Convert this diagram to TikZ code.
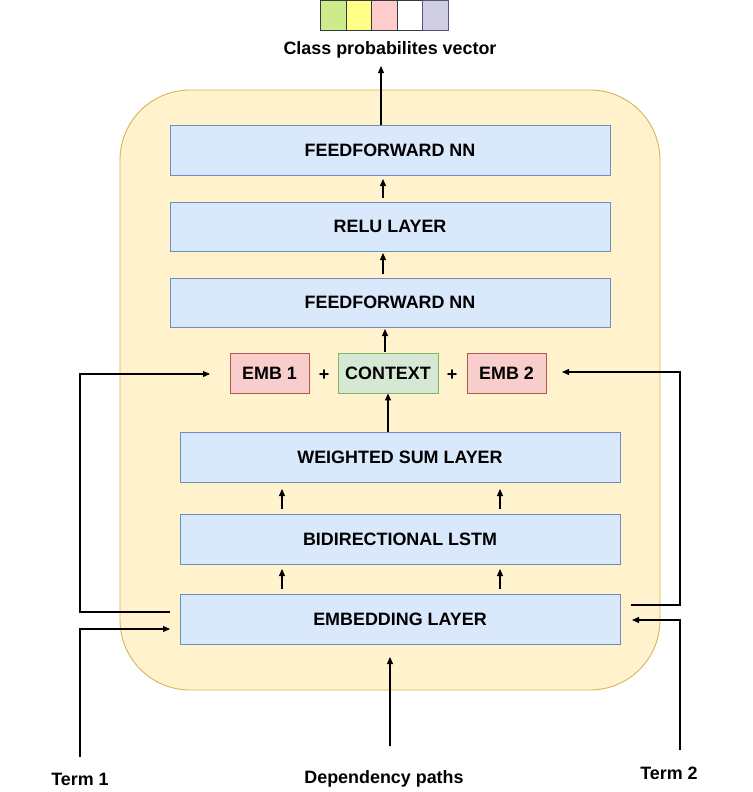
\documentclass[tikz,border=0pt]{standalone}
\usepackage{fontspec}
\setmainfont{Liberation Sans}
\usetikzlibrary{arrows.meta}
\definecolor{blfill}{HTML}{DAE8FC}
\definecolor{bldraw}{HTML}{6C8EBF}
\definecolor{rdfill}{HTML}{F8CECC}
\definecolor{rddraw}{HTML}{B85450}
\definecolor{gnfill}{HTML}{D5E8D4}
\definecolor{gndraw}{HTML}{82B366}
\definecolor{yefill}{HTML}{FFF2CC}
\definecolor{yedraw}{HTML}{D6B656}
\definecolor{c1}{HTML}{CDEB8B}
\definecolor{c2}{HTML}{FFFF88}
\definecolor{c3}{HTML}{FFCCCC}
\definecolor{c5}{HTML}{D0CEE2}
\definecolor{cdark}{HTML}{36393D}
\definecolor{cpurp}{HTML}{56517E}
\tikzset{
  lbl/.style={font=\fontsize{17.9}{20}\selectfont\bfseries, inner sep=0pt},
  layer/.style={draw=bldraw, fill=blfill, line width=0.9pt, minimum height=50pt, inner sep=0pt, lbl},
  emb/.style={draw=rddraw, fill=rdfill, line width=0.9pt, minimum width=79pt, minimum height=40pt, inner sep=0pt, lbl},
  ctx/.style={draw=gndraw, fill=gnfill, line width=0.9pt, minimum width=100pt, minimum height=40pt, inner sep=0pt, lbl},
  cell/.style={line width=0.9pt, minimum width=25.6pt, minimum height=30pt, inner sep=0pt},
  arr/.style={line width=1.1pt, -{Triangle[length=7pt,width=6pt]}},
  ln/.style={line width=1.1pt}
}
\begin{document}
\begin{tikzpicture}[x=1pt,y=-1pt]
\useasboundingbox (0,0) rectangle (752,792);
% container
\draw[fill=yefill, draw=yedraw, line width=0.9pt, rounded corners=70pt] (120,90) rectangle (660,690);
% vector cells
\node[cell, draw=cdark, fill=c1] (v1) at (333.2,15) {};
\node[cell, draw=cdark, fill=c2] (v2) at (358.8,15) {};
\node[cell, draw=cdark, fill=c3] (v3) at (384.4,15) {};
\node[cell, draw=cdark, fill=white] (v4) at (410,15) {};
\node[cell, draw=cpurp, fill=c5] (v5) at (435.6,15) {};
\node[lbl] (cpv) at (390,50) {Class probabilites vector};
% layers
\node[layer, minimum width=440pt] (ff1) at (390,150) {FEEDFORWARD NN};
\node[layer, minimum width=440pt, minimum height=49pt] (relu) at (390,226.5) {RELU LAYER};
\node[layer, minimum width=440pt, minimum height=49pt] (ff2) at (390,302.5) {FEEDFORWARD NN};
\node[emb] (e1) at (269.5,373) {EMB 1};
\node[lbl] (p1) at (324,375) {+};
\node[ctx] (ctx) at (388,373) {CONTEXT};
\node[lbl] (p2) at (452,375) {+};
\node[emb] (e2) at (506.5,373) {EMB 2};
\node[layer, minimum width=440pt] (ws) at (400,457) {WEIGHTED SUM LAYER};
\node[layer, minimum width=440pt] (lstm) at (400,539) {BIDIRECTIONAL LSTM};
\node[layer, minimum width=440pt] (embl) at (400,619) {EMBEDDING LAYER};
% bottom labels
\node[lbl] (t1) at (80,779) {Term 1};
\node[lbl] (dp) at (384,779) {Dependency paths};
\node[lbl] (t2) at (669,773) {Term 2};
% coordinates
\coordinate (cpvb) at (381,66);
\coordinate (t1top) at (80,757);
\coordinate (t2top) at (680,750);
\coordinate (dptop) at (390,746);
\coordinate (dptip) at (390,657);
\coordinate (a1) at (210,374);
\coordinate (a2) at (562,372);
% vertical arrows
\draw[arr] (381,125) -- (cpvb);
\draw[arr] (383,198) -- (383,179);
\draw[arr] (383,274) -- (383,253);
\draw[arr] (385,352) -- (385,329);
\draw[arr] (388,432) -- (ctx.south);
\draw[arr] (282,509) -- (282,489);
\draw[arr] (500,509) -- (500,489);
\draw[arr] (282,589) -- (282,569);
\draw[arr] (500,589) -- (500,569);
\draw[arr] (dptop) -- (dptip);
% left side
\draw[ln, -{Triangle[length=7pt,width=6pt]}] (170,612) -- (80,612) -- (80,374) -- (a1);
\draw[ln, -{Triangle[length=7pt,width=6pt]}] (t1top) -- (80,629) -- (170,629);
% right side
\draw[ln, -{Triangle[length=7pt,width=6pt]}] (631,605) -- (680,605) -- (680,372) -- (a2);
\draw[ln, -{Triangle[length=7pt,width=6pt]}] (t2top) -- (680,620) -- (632,620);
\end{tikzpicture}
\end{document}
